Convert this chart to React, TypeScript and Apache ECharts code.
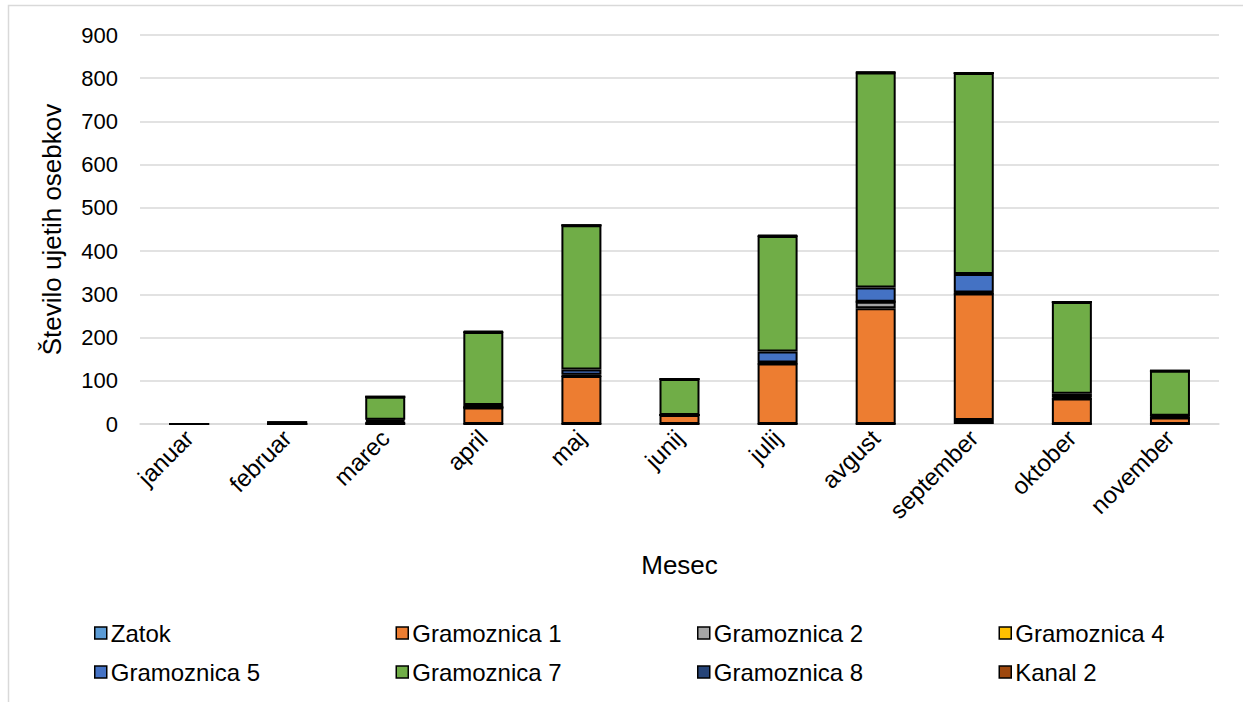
import React, { useEffect, useRef } from "react";
import * as echarts from "echarts";

const months = ["januar", "februar", "marec", "april", "maj", "junij", "julij", "avgust", "september", "oktober", "november"];
const seriesNames = ["Zatok", "Gramoznica 1", "Gramoznica 2", "Gramoznica 4", "Gramoznica 5", "Gramoznica 7", "Gramoznica 8", "Kanal 2"];
const colors = ["#5B9BD5", "#ED7D31", "#A5A5A5", "#FFC000", "#4472C4", "#70AD47", "#264478", "#9E480E"];
const yTicks = [0, 100, 200, 300, 400, 500, 600, 700, 800, 900];

const zatok = [0, 0, 0, 0, 0, 0, 0, 0, 9, 0, 0];
const gramoznica1 = [0, 0, 3, 38, 111, 21, 140, 268, 293, 59, 15];
const gramoznica2 = [0, 0, 0, 0, 0, 0, 0, 15, 0, 0, 0];
const gramoznica4 = [0, 0, 4, 0, 3, 0, 2, 0, 2, 3, 4];
const gramoznica5 = [0, 0, 3, 6, 12, 0, 26, 33, 43, 8, 0];
const gramoznica7 = [0, 4, 53, 169, 334, 83, 267, 497, 465, 212, 104];
const gramoznica8 = [0, 0, 0, 0, 0, 0, 0, 0, 0, 0, 0];
const kanal2 = [0, 0, 0, 2, 0, 0, 2, 2, 0, 0, 0];

const values = [zatok, gramoznica1, gramoznica2, gramoznica4, gramoznica5, gramoznica7, gramoznica8, kanal2];

export default function App() {
  const ref = useRef<HTMLDivElement>(null);
  useEffect(() => {
    if (!ref.current) return;
    const chart = echarts.init(ref.current, null, { renderer: "svg" });
    const font = "Liberation Sans, Arial, sans-serif";
    const colX = [94, 395.5, 697, 998.5];
    const rowY = [621, 660];
    chart.setOption({
      animation: false,
      color: colors,
      textStyle: { fontFamily: font },
      graphic: [
        {
          type: "rect",
          shape: { x: 8.5, y: 5.5, width: 1240, height: 720 },
          style: { fill: "none", stroke: "#d9d9d9", lineWidth: 1.5 },
          silent: true,
        },
      ],
      grid: { left: 140, right: 24, top: 35, height: 389 },
      legend: seriesNames.map((name, i) => ({
        data: [name],
        left: colX[i % 4],
        top: rowY[Math.floor(i / 4)],
        itemWidth: 12,
        itemHeight: 12,
        icon: "rect",
        padding: 0,
        textStyle: { fontSize: 24, color: "#000", fontFamily: font, padding: [0, 0, 0, -1] },
        itemStyle: { borderColor: "#000", borderWidth: 1.5 },
        selectedMode: false,
      })),
      xAxis: {
        type: "category",
        data: months,
        name: "Mesec",
        nameLocation: "middle",
        nameGap: 128,
        nameTextStyle: { fontSize: 26, color: "#000", fontFamily: font },
        axisLine: { lineStyle: { color: "#d9d9d9", width: 1.5 } },
        axisTick: { show: false },
        axisLabel: { rotate: 45, fontSize: 24, color: "#000", margin: 10, fontFamily: font },
      },
      yAxis: {
        type: "value",
        min: yTicks[0],
        max: yTicks[yTicks.length - 1],
        interval: 100,
        name: "Število ujetih osebkov",
        nameLocation: "middle",
        nameGap: 75,
        nameTextStyle: { fontSize: 26, color: "#000", fontFamily: font },
        axisLabel: { fontSize: 22, color: "#000", margin: 22, fontFamily: font },
        splitLine: { lineStyle: { color: "#d9d9d9", width: 1.5 } },
        axisLine: { show: false },
        axisTick: { show: false },
      },
      series: seriesNames.map((name, i) => ({
        name,
        type: "bar",
        stack: "total",
        barWidth: 40,
        data: values[i],
        itemStyle: { color: colors[i], borderColor: "#000", borderWidth: 2 },
      })),
    });
    return () => chart.dispose();
  }, []);
  return <div ref={ref} style={{ position: "absolute", left: 0, top: 0, width: 1243, height: 702 }} />;
}
